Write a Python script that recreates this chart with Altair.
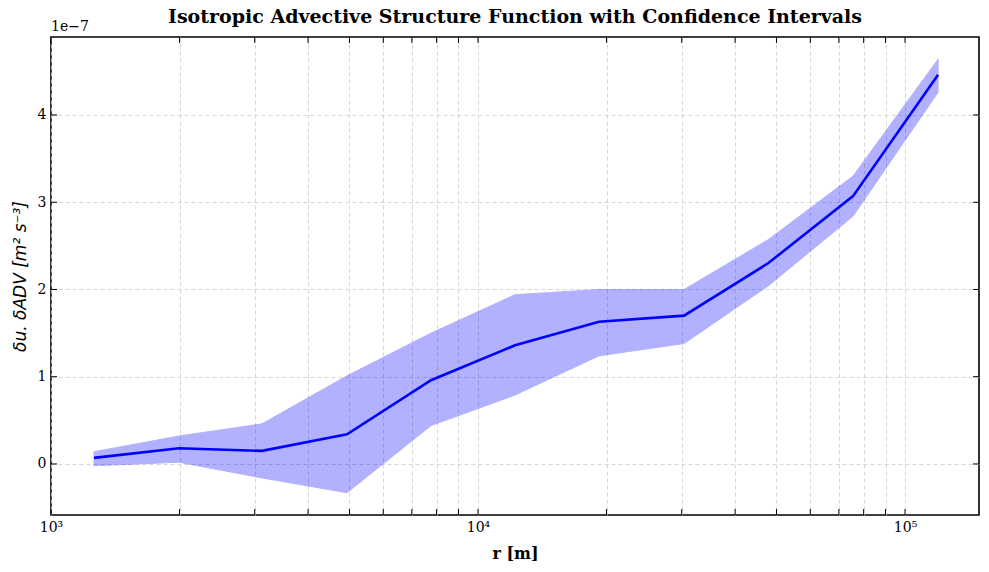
import altair as alt
import pandas as pd

# data (y values in units of 1e-7 m^2 s^-3)
r_vals = [1261, 1994, 3120, 4934, 7762, 12210, 19200, 30370, 47780, 75540, 119500]
mean_vals = [0.07, 0.18, 0.15, 0.34, 0.96, 1.36, 1.63, 1.70, 2.30, 3.07, 4.46]
upper_vals = [0.14, 0.32, 0.46, 1.01, 1.50, 1.94, 2.00, 2.00, 2.57, 3.30, 4.64]
lower_vals = [-0.02, 0.02, -0.16, -0.33, 0.44, 0.79, 1.24, 1.38, 2.04, 2.84, 4.26]

x_ticks = [1000, 2000, 3000, 4000, 5000, 6000, 7000, 8000, 9000,
           10000, 20000, 30000, 40000, 50000, 60000, 70000, 80000, 90000, 100000]
y_ticks = [0, 1, 2, 3, 4]

W, H = 928, 478
SERIF = "DejaVu Serif"

df = pd.DataFrame({"r": r_vals, "mean": mean_vals, "upper": upper_vals, "lower": lower_vals})

xscale = alt.Scale(type="log", domain=[1000, 149000], nice=False)
yscale = alt.Scale(domain=[-0.585, 4.894], nice=False, zero=False)

xaxis = alt.Axis(
    values=x_ticks,
    labelExpr="datum.value == 1000 ? '10³' : datum.value == 10000 ? '10⁴' : datum.value == 100000 ? '10⁵' : ''",
    tickSize=0, domain=False, grid=True, gridDash=[4, 3], gridColor="#cccccc", gridWidth=0.8,
    labelFont=SERIF, labelFontSize=14, labelColor="black", labelPadding=5, labelFlush=False,
    labelOverlap=False,
    title="r [m]", titleFont=SERIF, titleFontWeight="bold", titleFontSize=16, titleColor="black",
    titlePadding=11,
)
yaxis = alt.Axis(
    values=y_ticks, format="d",
    tickSize=0, domain=False, grid=True, gridDash=[4, 3], gridColor="#cccccc", gridWidth=0.8,
    labelFont=SERIF, labelFontSize=14, labelColor="black", labelPadding=5,
    title="δu. δADV [m² s⁻³]", titleFont="DejaVu Sans", titleFontStyle="italic",
    titleFontWeight="normal", titleFontSize=17, titleColor="black", titlePadding=8,
)

X = alt.X("r:Q", scale=xscale, axis=xaxis)

base = alt.Chart(df)
band = base.mark_area(color="blue", opacity=0.3, stroke="blue", strokeWidth=1).encode(
    x=X,
    y=alt.Y("lower:Q", scale=yscale, axis=yaxis),
    y2="upper:Q",
)
line = base.mark_line(color="blue", strokeWidth=2.6).encode(
    x=X,
    y=alt.Y("mean:Q", scale=yscale, axis=yaxis),
)

xt = pd.DataFrame({"r": x_ticks})
yt = pd.DataFrame({"mean": y_ticks})
tick_bottom = alt.Chart(xt).mark_rule(color="black", strokeWidth=1).encode(
    x=X, y=alt.value(H), y2=alt.value(H - 6))
tick_top = alt.Chart(xt).mark_rule(color="black", strokeWidth=1).encode(
    x=X, y=alt.value(0), y2=alt.value(6))
tick_left = alt.Chart(yt).mark_rule(color="black", strokeWidth=1).encode(
    y=alt.Y("mean:Q", scale=yscale, axis=yaxis), x=alt.value(0), x2=alt.value(6))
tick_right = alt.Chart(yt).mark_rule(color="black", strokeWidth=1).encode(
    y=alt.Y("mean:Q", scale=yscale, axis=yaxis), x=alt.value(W), x2=alt.value(W - 6))

offset_txt = alt.Chart(pd.DataFrame({"t": ["1e−7"]})).mark_text(
    align="left", baseline="bottom", font=SERIF, fontSize=14, color="black").encode(
    x=alt.value(0), y=alt.value(-3), text="t:N")

chart = alt.layer(band, line, tick_bottom, tick_top, tick_left, tick_right, offset_txt).properties(
    width=W, height=H,
    title=alt.TitleParams(
        "Isotropic Advective Structure Function with Confidence Intervals",
        font=SERIF, fontWeight="bold", fontSize=19, anchor="middle", offset=-7,
        frame="group", color="black"),
    autosize=alt.AutoSizeParams(type="none"),
    padding={"left": 51, "top": 37, "right": 10, "bottom": 57},
    background="white",
).configure_view(stroke="black", strokeWidth=1.6)

chart.save("out.html", embed_options={"renderer": "svg", "actions": False})
